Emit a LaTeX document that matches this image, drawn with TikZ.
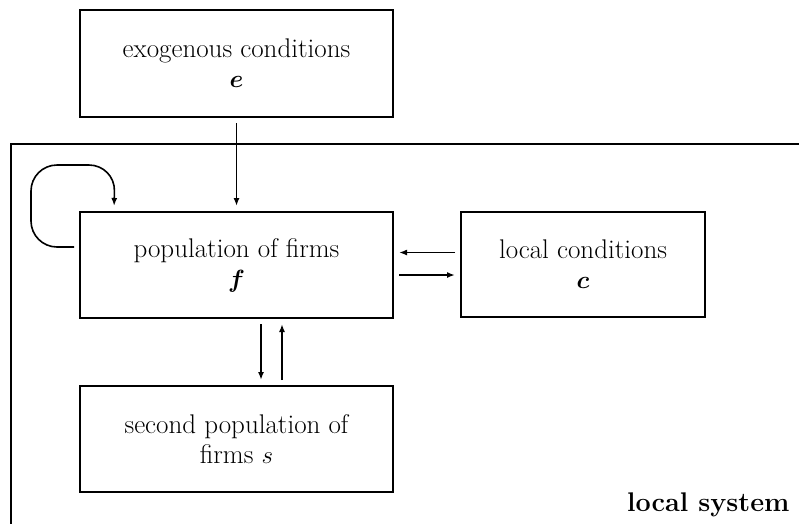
\documentclass[tikz,border=0pt]{standalone}
\usepackage{bm}
\usetikzlibrary{arrows.meta}
\begin{document}
\begin{tikzpicture}[x=1pt,y=-1pt,
  box/.style={draw,line width=2pt,inner sep=0pt,align=center,
    font=\fontsize{27}{30}\selectfont},
  conn/.style={line width=1.6pt,-{Latex[length=8pt,width=6pt]},shorten <=5pt,shorten >=5pt},
  framefont/.style={font=\fontsize{27}{30}\selectfont\bfseries}]
\useasboundingbox (0,0) rectangle (799,523);
\fill[white] (0,0) rectangle (799,523);
% local system frame
\draw[line width=2pt] (11,560) -- (11,144) -- (840,144);
\node[framefont,anchor=base east] (ls) at (793,511) {local system};
% boxes
\node[box,minimum width=313pt,minimum height=107pt] (e) at (236.5,63.5)
  {exogenous conditions\\ $\bm{e}$};
\node[box,minimum width=313pt,minimum height=106pt] (f) at (236.5,265)
  {population of firms\\ $\bm{f}$};
\node[box,minimum width=244pt,minimum height=105pt] (c) at (583,264.5)
  {local conditions\\ $\bm{c}$};
\node[box,minimum width=313pt,minimum height=106pt] (s) at (236.5,439)
  {second population of\\ firms $s$};
% connectors
\draw[conn] (e.south) -- (f.north);
\draw[conn] ([yshift=12pt]c.west) -- ([yshift=12pt]c.west -| f.east);
\draw[conn] ([yshift=-10pt]f.east) -- ([yshift=-10pt]f.east -| c.west);
\draw[conn] ([xshift=24.5pt]f.south) -- ([xshift=24.5pt]f.south |- s.north);
\draw[conn] ([xshift=45.5pt]s.north) -- ([xshift=45.5pt]s.north |- f.south);
\draw[conn,rounded corners=26pt] ([yshift=18pt]f.west) -- ++(-48,0) |- (115,165) -- ([xshift=35pt]f.north west);
\end{tikzpicture}
\end{document}
